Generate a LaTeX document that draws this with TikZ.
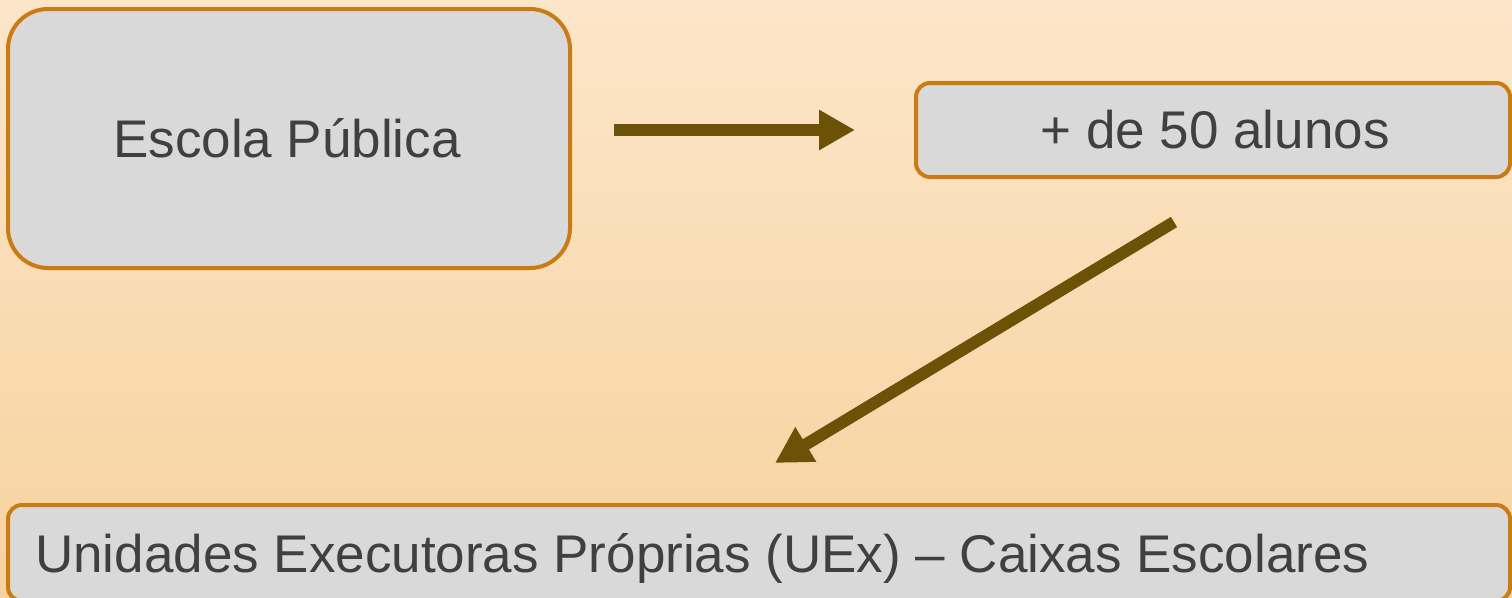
\documentclass[tikz,border=0pt]{standalone}
\usepackage{fontspec}
\setmainfont{Liberation Sans}
\usetikzlibrary{arrows.meta}
\definecolor{bgtop}{HTML}{FCE6C9}
\definecolor{bgbot}{HTML}{F7D29E}
\definecolor{boxline}{HTML}{C97C14}
\definecolor{boxfill}{HTML}{D9D9D9}
\definecolor{txt}{HTML}{404040}
\definecolor{arr}{HTML}{6B5207}
\tikzset{
  box/.style={draw=boxline, fill=boxfill, line width=4pt},
  lbl/.style={text=txt, font=\fontsize{53}{60}\selectfont, inner sep=0pt, anchor=base},
  bigarrow/.style={draw=arr, line width=12pt, -{Triangle[length=36pt,width=38pt]}}
}
\begin{document}
\begin{tikzpicture}[x=1pt,y=-1pt]
\useasboundingbox (0,0) rectangle (1512,597);
\shade[top color=bgtop, bottom color=bgbot] (0,0) rectangle (1512,597);
\begin{scope}
\clip (0,0) rectangle (1512,597);
\draw[box, rounded corners=40pt] (8,9) rectangle (570,268);
\draw[box, rounded corners=14pt] (916,83) rectangle (1510,177);
\draw[box, rounded corners=14pt] (8,505) rectangle (1510,601);
\end{scope}
\node[lbl] (escola) at (287,157) {Escola Pública};
\node[lbl] (alunos) at (1215,148) {+ de 50 alunos};
\node[lbl, anchor=base west] (uex) at (35,572) {Unidades Executoras Próprias (UEx) – Caixas Escolares};
\coordinate (a1s) at (614,130);
\coordinate (a1e) at (855,130);
\coordinate (a2s) at (1174,222);
\coordinate (a2e) at (775,463);
\draw[bigarrow] (a1s) -- (a1e);
\draw[bigarrow] (a2s) -- (a2e);
\end{tikzpicture}
\end{document}
